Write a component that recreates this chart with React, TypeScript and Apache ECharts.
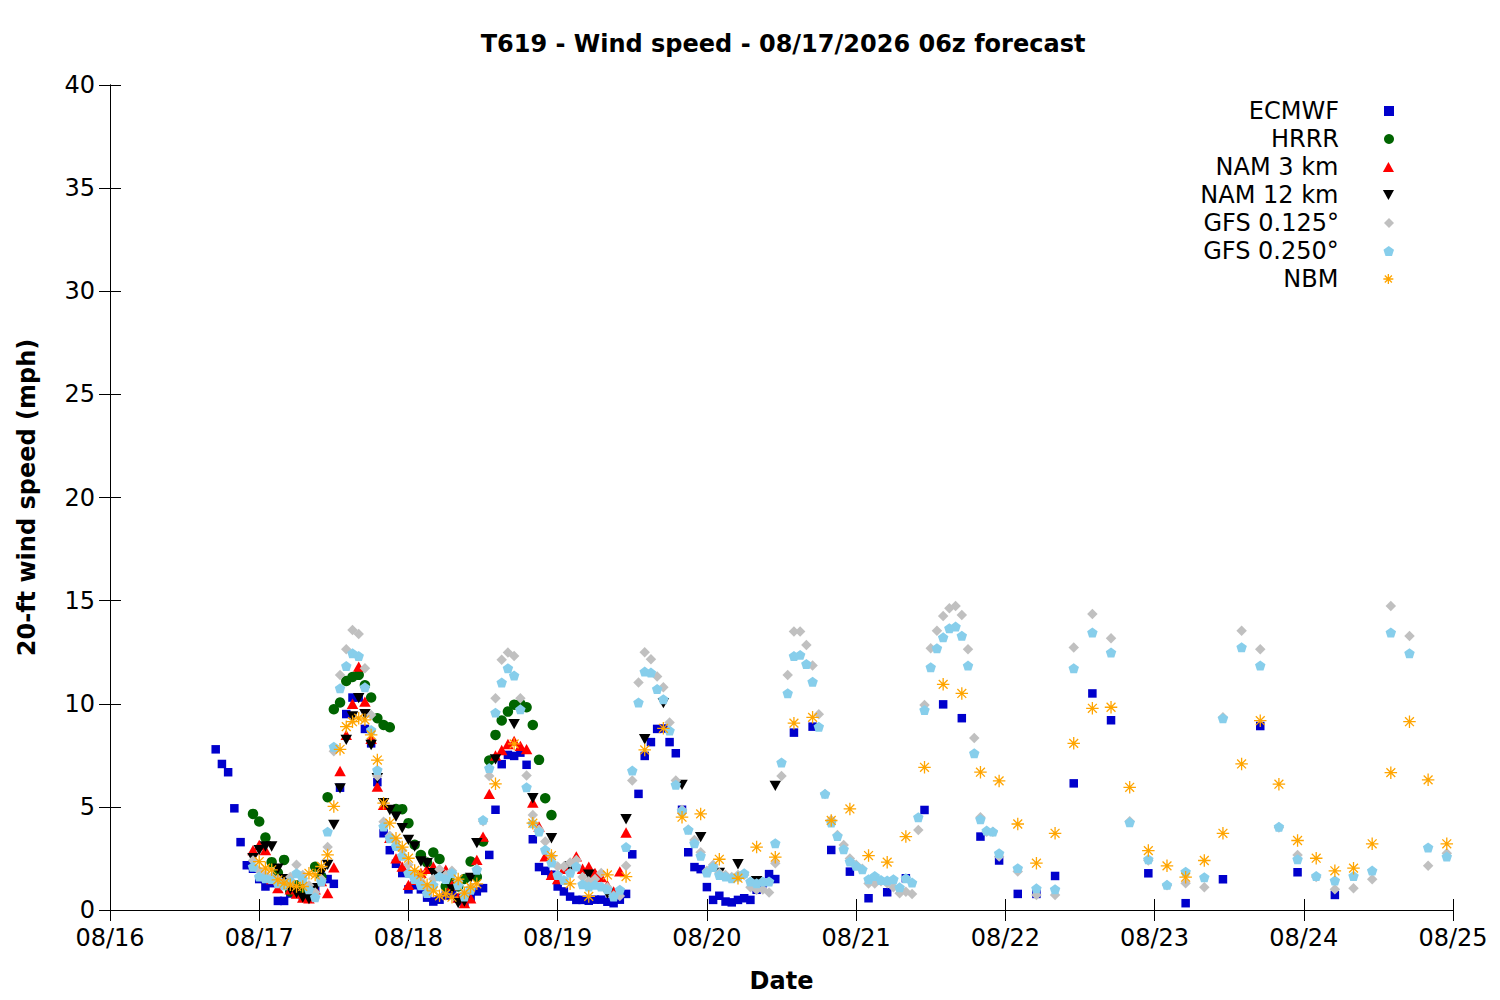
import React, { useEffect, useRef } from "react";
import * as echarts from "echarts";

// ---- Axis / labels ----
const DAY_LABELS = ["08/16", "08/17", "08/18", "08/19", "08/20", "08/21", "08/22", "08/23", "08/24", "08/25"];
const TITLE = "T619 - Wind speed - 08/17/2026 06z forecast";
const SERIES_NAMES = ["ECMWF", "HRRR", "NAM 3 km", "NAM 12 km", "GFS 0.125°", "GFS 0.250°", "NBM"];

// Hours are counted from 08/16 00:00 (local). Each block: first hour, step (h), values (mph).
const ECMWF_1H = [
  7.79, 7.08, 6.68, 4.93, 3.29, 2.17, 2.0, 1.5, 1.14, 1.3,
  0.44, 0.44, 0.8, 1.0, 0.7, 0.9, 1.08, 1.6, 1.5, 1.27,
  5.93, 9.5, 10.3, 10.3, 8.78, 8.08, 6.2, 3.72, 2.9, 2.24,
  1.79, 1.0, 1.2, 1.0, 0.6, 0.41, 0.5, 0.7, 0.9, 0.6,
  0.33, 0.6, 0.9, 1.06, 2.67, 4.86, 7.07, 7.52, 7.47, 7.63,
  7.04, 3.43, 2.08, 1.9, 1.71, 1.14, 0.9, 0.65, 0.49, 0.49,
  0.45, 0.5, 0.5, 0.4, 0.33, 0.5, 0.78, 2.7, 5.63, 7.47,
  8.14, 8.78, 8.8, 8.14, 7.6, 4.86, 2.8, 2.08, 1.98, 1.11,
  0.49, 0.69, 0.41, 0.37, 0.49, 0.57, 0.49, 0.98, 1.3, 1.74,
  1.5,
];
const ECMWF_3H = [8.6, 8.89, 2.91, 1.86, 0.57, 0.86, 1.54, 4.85, 9.97, 9.3, 3.56, 2.4, 0.78, 0.78, 1.65, 6.14, 10.5, 9.2];
const ECMWF_6H = [1.78, 0.33, 1.49, 8.92, 1.83, 0.73];

const HRRR_1H = [
  4.66, 4.29, 3.51, 2.32, 1.8, 2.43, 0.9, 1.2, 1.0, 0.9,
  2.1, 1.6, 5.47, 9.73, 10.06, 11.1, 11.3, 11.4, 10.9, 10.3,
  9.3, 8.97, 8.86, 4.9, 4.89, 4.21, 3.16, 2.67, 2.3, 2.79,
  2.47, 1.14, 1.3, 1.14, 1.5, 2.35, 1.6, 3.32, 7.25, 8.49,
  9.19, 9.62, 9.95, 10.0, 9.83, 8.97, 7.28, 5.42, 4.6,
];

const NAM3_1H = [
  2.9, 3.16, 2.9, 1.5, 1.06, 1.3, 1.0, 0.8, 0.6, 0.57,
  1.0, 1.4, 0.82, 2.07, 6.74, 8.49, 10.0, 11.8, 10.1, 8.3,
  5.98, 5.1, 3.5, 2.5, 2.1, 1.22, 1.46, 1.8, 2.0, 2.1,
  1.7, 1.95, 1.2, 0.6, 0.33, 0.57, 2.43, 3.56, 5.63, 7.49,
  7.76, 8.05, 8.2, 7.96, 7.8, 5.21, 4.05, 2.6, 1.7, 1.5,
  2.0, 2.2, 2.6, 2.0, 2.1, 1.8, 1.6, 1.2, 0.9, 1.87,
  3.76,
];

const NAM12_1H = [
  2.51, 2.9, 3.08, 3.08, 2.0, 1.5, 1.0, 0.82, 0.6, 0.53,
  1.06, 1.8, 2.19, 4.13, 5.9, 8.25, 9.38, 10.27, 9.5, 8.0,
  6.39, 5.18, 4.85, 4.53, 3.97, 3.4, 3.08, 2.35, 2.27, 1.79,
  1.63, 1.47, 1.0, 0.33, 0.41, 1.55, 3.24,
];
const NAM12_3H = [7.3, 9.01, 5.42, 3.48, 2.11, 1.71, 0.8, 4.4, 8.28, 10.03, 6.07, 3.53, 1.8, 2.22, 1.4, 6.02];

const GFS125_1H = [
  2.4, 1.9, 1.7, 1.6, 1.5, 1.3, 1.6, 2.19, 1.7, 1.2,
  0.85, 1.5, 3.05, 7.7, 11.4, 12.64, 13.58, 13.38, 11.72, 9.46,
  6.5, 4.28, 3.6, 3.3, 2.9, 2.2, 1.8, 1.4, 1.1, 1.5,
  1.98, 1.7, 1.9, 1.4, 0.8, 1.1, 2.0, 4.3, 6.5, 10.27,
  12.13, 12.48, 12.32, 10.27, 6.52, 4.61, 3.9, 3.32, 2.6, 2.11,
  2.11, 2.3, 2.43, 1.6, 1.4, 1.5, 1.79, 1.1, 0.7, 0.68,
  2.14, 6.28, 11.03, 12.5, 12.16, 11.32, 10.8, 9.09, 6.28, 4.86,
  3.9, 3.4, 2.8, 1.9, 2.19, 1.8, 1.7, 1.6, 1.7, 1.7,
  1.1, 0.98, 1.0, 0.85, 2.27, 6.5, 11.4, 13.5, 13.5, 12.85,
  11.86, 9.49, 5.62, 4.36, 3.64, 3.15, 2.5, 2.2, 2.0, 1.29,
  1.29, 1.4, 1.3, 1.1, 0.81, 0.89, 0.78, 3.88, 9.94, 12.69,
  13.54, 14.25, 14.63, 14.74, 14.3, 12.64, 8.34, 4.5, 3.8, 3.8,
  2.6,
];
const GFS125_3H = [1.87, 0.73, 0.73, 12.73, 14.35, 13.17, 4.3, 2.4, 1.2, 1.3, 1.1, 9.34, 13.54, 12.64, 4.0, 2.67, 1.6, 1.01, 1.06, 1.49, 14.74, 13.28, 2.14, 2.75];

const GFS250_1H = [
  2.1, 1.62, 1.54, 1.5, 1.3, 1.2, 1.4, 1.78, 1.5, 1.0,
  0.62, 1.38, 3.8, 7.92, 10.75, 11.83, 12.45, 12.32, 10.8, 8.73,
  6.79, 4.05, 3.48, 3.1, 2.63, 1.79, 1.5, 1.2, 0.82, 1.2,
  1.63, 1.5, 1.79, 1.2, 0.66, 0.98, 1.95, 4.37, 6.88, 9.57,
  11.03, 11.72, 11.37, 9.73, 5.95, 4.2, 3.8, 2.92, 2.3, 1.7,
  1.46, 1.8, 2.11, 1.25, 1.14, 1.22, 1.14, 1.0, 0.66, 0.98,
  3.05, 6.76, 10.06, 11.56, 11.51, 10.72, 10.22, 8.7, 6.07, 4.8,
  3.89, 3.24, 2.63, 1.82, 2.08, 1.7, 1.62, 1.54, 1.62, 1.78,
  1.38, 1.3, 1.38, 1.38, 3.24, 7.15, 10.51, 12.32, 12.37, 11.93,
  11.07, 8.89, 5.63, 4.24, 3.59, 2.95, 2.35, 2.14, 1.97, 1.49,
  1.65, 1.46, 1.43, 1.49, 1.1, 1.54, 1.33, 4.5, 9.7, 11.77,
  12.69, 13.22, 13.66, 13.74, 13.3, 11.85, 7.6, 4.4, 3.85, 3.8,
  2.75,
];
const GFS250_3H = [2.03, 1.05, 1.01, 11.72, 13.46, 12.49, 4.25, 2.46, 1.22, 1.86, 1.59, 9.3, 12.74, 11.86, 4.04, 2.46, 1.65, 1.43, 1.65, 1.91, 13.46, 12.45, 3.03, 2.59];

const NBM_1H = [
  2.35, 2.03, 1.95, 1.46, 1.3, 1.22, 1.14, 1.14, 1.78, 1.7,
  2.11, 2.67, 5.02, 7.79, 8.89, 9.13, 9.3, 9.22, 8.49, 7.27,
  5.18, 4.21, 3.48, 3.05, 2.51, 1.92, 1.71, 1.22, 0.93, 0.69,
  0.78, 0.62, 1.5, 0.82, 1.11, 1.27,
];
const NBM_3H = [
  6.12, 8.05, 4.21, 2.64, 1.27, 0.66, 1.7, 1.62,
  7.76, 8.81, 4.5, 4.66, 2.46, 1.54, 3.05, 2.56,
  9.06, 9.34, 4.34, 4.9, 2.64, 2.32, 3.56, 6.92,
  10.94, 10.5, 6.68, 6.26, 4.17, 2.27, 3.72, 8.08,
  9.78, 9.83, 5.95, 2.88, 2.14, 1.59, 2.4, 3.72,
  7.08, 9.18, 6.1, 3.37, 2.51, 1.9, 2.03, 3.21,
  6.66, 9.13, 6.31, 3.21,
];

// forecast time blocks: [first hour, step in hours, values]
const ECMWF_BLOCKS: [number, number, number[]][] = [[17, 1, ECMWF_1H], [110, 3, ECMWF_3H], [167, 6, ECMWF_6H]];
const HRRR_BLOCKS: [number, number, number[]][] = [[23, 1, HRRR_1H]];
const NAM3_BLOCKS: [number, number, number[]][] = [[23, 1, NAM3_1H]];
const NAM12_BLOCKS: [number, number, number[]][] = [[23, 1, NAM12_1H], [62, 3, NAM12_3H]];
const GFS125_BLOCKS: [number, number, number[]][] = [[23, 1, GFS125_1H], [146, 3, GFS125_3H]];
const GFS250_BLOCKS: [number, number, number[]][] = [[23, 1, GFS250_1H], [146, 3, GFS250_3H]];
const NBM_BLOCKS: [number, number, number[]][] = [[24, 1, NBM_1H], [62, 3, NBM_3H]];

function toPoints(blocks: [number, number, number[]][]) {
  const out: number[][] = [];
  blocks.forEach(([start, step, vals]) => vals.forEach((v, i) => out.push([start + i * step, v])));
  return out;
}

const FONT = "DejaVu Sans";
const SYM_SQUARE = "path://M0,0H10V10H0Z";
const SYM_TRI_UP = "path://M5,0L10,9L0,9Z";
const SYM_TRI_DOWN = "path://M0,0L10,0L5,9Z";
const SYM_DIAMOND = "path://M5,0L10,5L5,10L0,5Z";
const SYM_PENTAGON = "path://M5,0L9.76,3.45L7.94,9.05L2.06,9.05L0.24,3.45Z";
const SYM_STAR = "path://M0,5L10,5M5,0L5,10M1.46,1.46L8.54,8.54M8.54,1.46L1.46,8.54";

export default function App() {
  const ref = useRef<HTMLDivElement>(null);
  useEffect(() => {
    if (!ref.current) return;
    const chart = echarts.init(ref.current, undefined, { renderer: "svg" });
    const defs = [
      { name: SERIES_NAMES[0], blocks: ECMWF_BLOCKS, symbol: SYM_SQUARE, size: 8.5, style: { color: "#0000cc", opacity: 1 } },
      { name: SERIES_NAMES[1], blocks: HRRR_BLOCKS, symbol: "circle", size: 10.5, style: { color: "#006400", opacity: 1 } },
      { name: SERIES_NAMES[2], blocks: NAM3_BLOCKS, symbol: SYM_TRI_UP, size: 11.5, style: { color: "#ff0000", opacity: 1 } },
      { name: SERIES_NAMES[3], blocks: NAM12_BLOCKS, symbol: SYM_TRI_DOWN, size: 11.5, style: { color: "#000000", opacity: 1 } },
      { name: SERIES_NAMES[4], blocks: GFS125_BLOCKS, symbol: SYM_DIAMOND, size: 10.5, style: { color: "#c0c0c0", opacity: 1 } },
      { name: SERIES_NAMES[5], blocks: GFS250_BLOCKS, symbol: SYM_PENTAGON, size: 10.5, style: { color: "#87ceeb", opacity: 1 } },
      {
        name: SERIES_NAMES[6], blocks: NBM_BLOCKS, symbol: SYM_STAR, size: 12.5,
        style: { color: "rgba(0,0,0,0)", borderColor: "#ffa500", borderWidth: 1.3, opacity: 1 },
      },
    ];
    const legendTop0 = 110;
    const legends = defs.map((d, i) => ({
      data: [{ name: d.name, itemStyle: d.style }],
      right: 106,
      top: legendTop0 + i * 28 - 11,
      padding: 0,
      align: "right",
      orient: "vertical",
      itemWidth: 90,
      itemHeight: 10,
      itemGap: 0,
      selectedMode: false,
      symbolKeepAspect: true,
      textStyle: { fontFamily: FONT, fontSize: 24, color: "#000" },
    }));
    const axisLabelStyle = { fontFamily: FONT, fontSize: 24, color: "#000" };
    chart.setOption({
      animation: false,
      backgroundColor: "#fff",
      title: {
        text: TITLE,
        left: 783,
        top: 32,
        textAlign: "center",
        padding: 0,
        textStyle: { fontFamily: FONT, fontSize: 24, fontWeight: "bold", color: "#000" },
      },
      legend: legends,
      grid: { left: 110, right: 47, top: 85, bottom: 90, containLabel: false },
      xAxis: [
        {
          type: "value", min: 0, max: 216, interval: 24,
          name: "Date", nameLocation: "middle", nameGap: 59,
          nameTextStyle: { fontFamily: FONT, fontSize: 24, fontWeight: "bold", color: "#000" },
          axisLine: { show: true, lineStyle: { color: "#000", width: 1 } },
          axisTick: { show: true, inside: true, length: 11, lineStyle: { color: "#000" } },
          axisLabel: { ...axisLabelStyle, margin: 16, formatter: (v: number) => DAY_LABELS[Math.round(v / 24)] ?? "" },
          splitLine: { show: false },
        },
        {
          type: "value", min: 0, max: 216, interval: 24, position: "top",
          axisLine: { show: true, lineStyle: { color: "#000", width: 1 } },
          axisTick: { show: true, inside: true, length: 11, lineStyle: { color: "#000" } },
          axisLabel: { show: false },
          splitLine: { show: false },
        },
      ],
      yAxis: [
        {
          type: "value", min: 0, max: 40, interval: 5,
          name: "20-ft wind speed (mph)", nameLocation: "middle", nameGap: 71,
          nameTextStyle: { fontFamily: FONT, fontSize: 24, fontWeight: "bold", color: "#000" },
          axisLine: { show: true, lineStyle: { color: "#000", width: 1 } },
          axisTick: { show: true, inside: true, length: 11, lineStyle: { color: "#000" } },
          axisLabel: { ...axisLabelStyle, margin: 15 },
          splitLine: { show: false },
        },
        {
          type: "value", min: 0, max: 40, interval: 5, position: "right",
          axisLine: { show: true, lineStyle: { color: "#000", width: 1 } },
          axisTick: { show: true, inside: true, length: 11, lineStyle: { color: "#000" } },
          axisLabel: { show: false },
          splitLine: { show: false },
        },
      ],
      series: defs.map((d) => ({
        name: d.name,
        type: "scatter",
        xAxisIndex: 0,
        yAxisIndex: 0,
        symbol: d.symbol,
        symbolSize: d.size,
        symbolKeepAspect: true,
        itemStyle: d.style,
        emphasis: { disabled: true },
        data: toPoints(d.blocks),
      })),
    });
    return () => chart.dispose();
  }, []);
  return (
    <div
      ref={ref}
      style={{ position: "fixed", left: 0, top: 0, width: 1500, height: 1000, background: "#fff" }}
    />
  );
}
